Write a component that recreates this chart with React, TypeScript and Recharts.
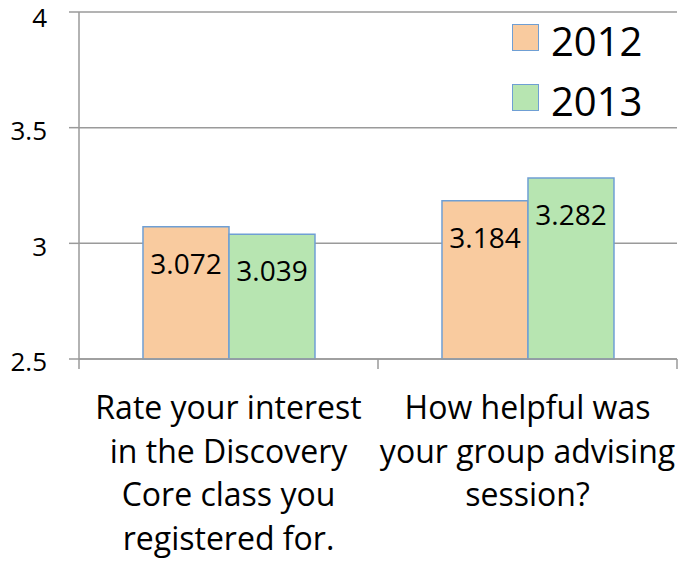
import React from "react";
import { Bar, BarChart, CartesianGrid, LabelList, XAxis, YAxis } from "recharts";

const questions = [
  "Rate your interest\nin the Discovery\nCore class you\nregistered for.",
  "How helpful was\nyour group advising\nsession?",
];
const scores2012 = [3.072, 3.184];
const scores2013 = [3.039, 3.282];
const yTicks = [2.5, 3, 3.5, 4];

const FONT = "'Open Sans', sans-serif";
const GRID = "#9a9a9a";
const EDGE = "#6f9fd4";
const ORANGE = "#f9cb9f";
const GREEN = "#b7e5b1";

const data = questions.map((q, i) => ({
  q,
  y2012: scores2012[i],
  y2013: scores2013[i],
}));

const series = [
  { key: "y2012", name: "2012", fill: ORANGE },
  { key: "y2013", name: "2013", fill: GREEN },
];

// category labels, plus the tick marks on the band edges (Excel style)
function QuestionTick({ x, y, payload, index, width, visibleTicksCount }: any) {
  const lines = String(payload.value).split("\n");
  const band = width / visibleTicksCount;
  const left = x - band / 2;
  const right = x + band / 2;
  return (
    <g>
      <line x1={left} x2={left} y1={y} y2={y + 10} stroke={GRID} strokeWidth={1.5} />
      {index === visibleTicksCount - 1 && (
        <line x1={right} x2={right} y1={y} y2={y + 10} stroke={GRID} strokeWidth={1.5} />
      )}
      <text x={x} y={y} textAnchor="middle" fontSize={32} fill="#000" fontFamily={FONT}>
        {lines.map((l, i) => (
          <tspan key={i} x={x} y={y + 60 + i * 43.5}>
            {l}
          </tspan>
        ))}
      </text>
    </g>
  );
}

function ValueLabel({ x, y, width, value }: any) {
  return (
    <text x={x + width / 2} y={y + 47} textAnchor="middle" fontSize={28} fill="#000" fontFamily={FONT}>
      {value}
    </text>
  );
}

function YearLegend() {
  return (
    <div style={{ position: "absolute", top: 7, left: 512, fontFamily: FONT }}>
      {series.map((s) => (
        <div key={s.key} style={{ display: "flex", alignItems: "center", height: 60 }}>
          <div
            style={{
              width: 25,
              height: 25,
              background: s.fill,
              border: `1.5px solid ${EDGE}`,
              marginRight: 12,
            }}
          />
          <span style={{ fontSize: 40, lineHeight: "60px", color: "#000", marginTop: 8 }}>{s.name}</span>
        </div>
      ))}
    </div>
  );
}

export default function App() {
  return (
    <div style={{ position: "absolute", top: 0, left: 0, width: 690, height: 563, background: "#fff" }}>
      <BarChart
        width={690}
        height={563}
        data={data}
        margin={{ top: 12, right: 13, bottom: 0, left: 0 }}
        barGap={0}
        barCategoryGap="21.4%"
      >
        <CartesianGrid stroke={GRID} strokeWidth={1.5} vertical={false} />
        <XAxis
          dataKey="q"
          interval={0}
          height={204}
          tickLine={false}
          tickSize={0}
          tickMargin={0}
          axisLine={{ stroke: GRID, strokeWidth: 1.5 }}
          tick={<QuestionTick />}
        />
        <YAxis
          domain={[2.5, 4]}
          ticks={yTicks}
          width={79}
          tickSize={10}
          tickMargin={22}
          axisLine={{ stroke: GRID, strokeWidth: 1.5 }}
          tickLine={{ stroke: GRID, strokeWidth: 1.5 }}
          tick={{ fill: "#000", fontSize: 26, fontFamily: FONT, dy: 3 }}
        />
        {series.map((s) => (
          <Bar
            key={s.key}
            dataKey={s.key}
            name={s.name}
            fill={s.fill}
            stroke={EDGE}
            strokeWidth={1.5}
            isAnimationActive={false}
          >
            <LabelList dataKey={s.key} content={<ValueLabel />} />
          </Bar>
        ))}
      </BarChart>
      <YearLegend />
    </div>
  );
}
